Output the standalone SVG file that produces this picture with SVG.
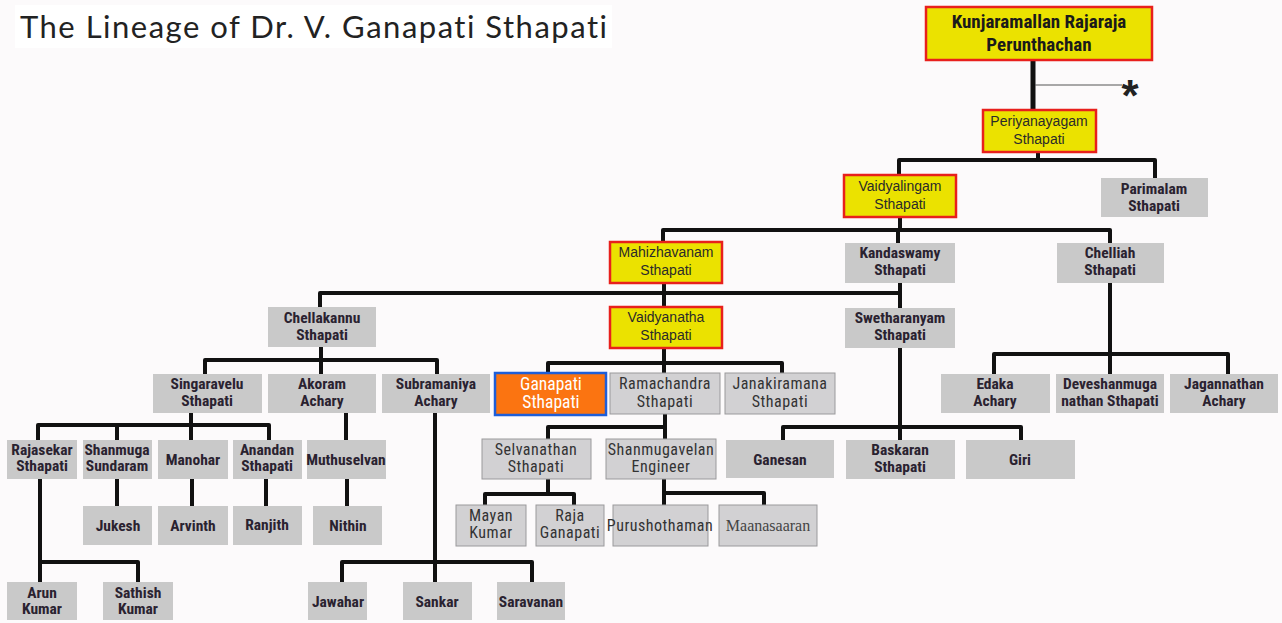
<svg xmlns="http://www.w3.org/2000/svg" width="1282" height="623" viewBox="0 0 1282 623">
<style>
.bg{fill:#fcfafb}
.y{fill:#ebe200;stroke:#e8201c;stroke-width:2.5}
.g{fill:#c9c9c9}
.l{fill:#d2d1d3;stroke:#9a999c;stroke-width:1}
.o{fill:#fb7411;stroke:#1e5ed8;stroke-width:2.5}
text{text-anchor:middle}
.tb{font-family:"Roboto Condensed","Liberation Sans",sans-serif;font-weight:bold;font-size:15.5px;fill:#2a2230}
.tk{font-family:"Roboto Condensed","Liberation Sans",sans-serif;font-weight:bold;font-size:19px;fill:#1a1a1a}
.ty{font-family:"Liberation Sans",Arial,sans-serif;font-size:14px;fill:#2a2a2a}
.tl{font-family:"Roboto Condensed","Liberation Sans",sans-serif;font-size:16px;fill:#333;letter-spacing:0.5px}
.to{font-family:"Roboto Condensed","Liberation Sans",sans-serif;font-size:17.5px;fill:#ffffff}
.ts{font-family:"Liberation Serif","Times New Roman",serif;font-size:16px;fill:#444}
#connectors path{fill:none;stroke:#111;stroke-width:4;stroke-linejoin:round}
</style>
<rect class="bg" x="0" y="0" width="1282" height="623"/>
<g id="title">
<rect x="15" y="5" width="597" height="43" fill="#ffffff"/>
<text x="20" y="38" style="text-anchor:start;font-family:Lato,'Open Sans',sans-serif;font-size:31px;letter-spacing:1.5px;fill:#222">The Lineage of Dr. V. Ganapati Sthapati</text>
</g>
<g id="connectors">
<path d="M1033 60V110" style="stroke-width:5"/>
<path d="M1035 85H1122" style="stroke:#555;stroke-width:1"/>
<path d="M1038 152V160M899 175V160H1155V178"/>
<path d="M900 217V230M663 243V230H1110V243M898 230V243"/>
<path d="M664 283V307M320 307V293H900M900 283V308"/>
<path d="M321 347V374M205 374V360H437V374"/>
<path d="M664 348V373M548 373V363H782V373"/>
<path d="M665 414V439M665 427H548V439"/>
<path d="M548 479V494M485 505V494H574V505"/>
<path d="M664 479V505M664 493H764V505"/>
<path d="M900 348V440M783 440V427H1021V440"/>
<path d="M1110 283V374M994 374V354H1228V374"/>
<path d="M191 413V440M38 440V425H269V440M117 425V440"/>
<path d="M117 479V506M192 479V506M266 479V506"/>
<path d="M40 479V582M40 562H138V582"/>
<path d="M346 413V440M347 479V506"/>
<path d="M435 413V582M342 582V562H532V582"/>
</g>
<g id="asterisk"><text x="1130" y="111" style="font-family:'Liberation Sans',sans-serif;font-weight:bold;font-size:44px;fill:#222">*</text></g>

<g id="kunjaramallan"><rect class="y" x="926" y="7" width="226" height="53"/><text class="tk" x="1039" y="28">Kunjaramallan Rajaraja</text><text class="tk" x="1039" y="51">Perunthachan</text></g>
<g id="periyanayagam"><rect class="y" x="983" y="110" width="113" height="42"/><text class="ty" x="1039" y="126">Periyanayagam</text><text class="ty" x="1039" y="144">Sthapati</text></g>
<g id="vaidyalingam"><rect class="y" x="844" y="175" width="112" height="42"/><text class="ty" x="900" y="191">Vaidyalingam</text><text class="ty" x="900" y="209">Sthapati</text></g>
<g id="parimalam"><rect class="g" x="1101" y="178" width="107" height="39"/><text class="tb" x="1154" y="194">Parimalam</text><text class="tb" x="1154" y="211">Sthapati</text></g>
<g id="mahizhavanam"><rect class="y" x="610" y="242" width="112" height="41"/><text class="ty" x="666" y="257">Mahizhavanam</text><text class="ty" x="666" y="275">Sthapati</text></g>
<g id="kandaswamy"><rect class="g" x="845" y="243" width="110" height="40"/><text class="tb" x="900" y="258">Kandaswamy</text><text class="tb" x="900" y="275">Sthapati</text></g>
<g id="chelliah"><rect class="g" x="1057" y="243" width="107" height="40"/><text class="tb" x="1110" y="258">Chelliah</text><text class="tb" x="1110" y="275">Sthapati</text></g>
<g id="chellakannu"><rect class="g" x="268" y="307" width="108" height="40"/><text class="tb" x="322" y="323">Chellakannu</text><text class="tb" x="322" y="340">Sthapati</text></g>
<g id="vaidyanatha"><rect class="y" x="610" y="307" width="112" height="41"/><text class="ty" x="666" y="322">Vaidyanatha</text><text class="ty" x="666" y="340">Sthapati</text></g>
<g id="swetharanyam"><rect class="g" x="845" y="308" width="110" height="40"/><text class="tb" x="900" y="323">Swetharanyam</text><text class="tb" x="900" y="340">Sthapati</text></g>
<g id="singaravelu"><rect class="g" x="153" y="374" width="109" height="39"/><text class="tb" x="207" y="389">Singaravelu</text><text class="tb" x="207" y="406">Sthapati</text></g>
<g id="akoram"><rect class="g" x="268" y="374" width="108" height="39"/><text class="tb" x="322" y="389">Akoram</text><text class="tb" x="322" y="406">Achary</text></g>
<g id="subramaniya"><rect class="g" x="382" y="374" width="108" height="39"/><text class="tb" x="436" y="389">Subramaniya</text><text class="tb" x="436" y="406">Achary</text></g>
<g id="ganapati"><rect class="o" x="495" y="373" width="111" height="42"/><text class="to" x="551" y="390">Ganapati</text><text class="to" x="551" y="408">Sthapati</text></g>
<g id="ramachandra"><rect class="l" x="610" y="373" width="110" height="41"/><text class="tl" x="665" y="389">Ramachandra</text><text class="tl" x="665" y="407">Sthapati</text></g>
<g id="janakiramana"><rect class="l" x="725" y="373" width="110" height="41"/><text class="tl" x="780" y="389">Janakiramana</text><text class="tl" x="780" y="407">Sthapati</text></g>
<g id="edaka"><rect class="g" x="941" y="374" width="109" height="39"/><text class="tb" x="995" y="389">Edaka</text><text class="tb" x="995" y="406">Achary</text></g>
<g id="deveshanmuganathan"><rect class="g" x="1056" y="374" width="108" height="39"/><text class="tb" x="1110" y="389">Deveshanmuga</text><text class="tb" x="1110" y="406">nathan Sthapati</text></g>
<g id="jagannathan"><rect class="g" x="1170" y="374" width="108" height="39"/><text class="tb" x="1224" y="389">Jagannathan</text><text class="tb" x="1224" y="406">Achary</text></g>
<g id="rajasekar"><rect class="g" x="7" y="440" width="70" height="39"/><text class="tb" x="42" y="455">Rajasekar</text><text class="tb" x="42" y="471">Sthapati</text></g>
<g id="shanmuga"><rect class="g" x="83" y="440" width="69" height="39"/><text class="tb" x="117" y="455">Shanmuga</text><text class="tb" x="117" y="471">Sundaram</text></g>
<g id="manohar"><rect class="g" x="158" y="440" width="70" height="39"/><text class="tb" x="193" y="465">Manohar</text></g>
<g id="anandan"><rect class="g" x="233" y="440" width="69" height="39"/><text class="tb" x="267" y="455">Anandan</text><text class="tb" x="267" y="471">Sthapati</text></g>
<g id="muthuselvan"><rect class="g" x="307" y="440" width="79" height="39"/><text class="tb" x="346" y="465">Muthuselvan</text></g>
<g id="selvanathan"><rect class="l" x="482" y="439" width="109" height="40"/><text class="tl" x="536" y="455">Selvanathan</text><text class="tl" x="536" y="472">Sthapati</text></g>
<g id="shanmugavelan"><rect class="l" x="606" y="439" width="110" height="40"/><text class="tl" x="661" y="455">Shanmugavelan</text><text class="tl" x="661" y="472">Engineer</text></g>
<g id="ganesan"><rect class="g" x="726" y="440" width="108" height="38"/><text class="tb" x="780" y="465">Ganesan</text></g>
<g id="baskaran"><rect class="g" x="846" y="440" width="109" height="39"/><text class="tb" x="900" y="455">Baskaran</text><text class="tb" x="900" y="472">Sthapati</text></g>
<g id="giri"><rect class="g" x="966" y="440" width="109" height="39"/><text class="tb" x="1020" y="465">Giri</text></g>
<g id="jukesh"><rect class="g" x="83" y="506" width="69" height="39"/><text class="tb" x="118" y="531">Jukesh</text></g>
<g id="arvinth"><rect class="g" x="158" y="506" width="70" height="39"/><text class="tb" x="193" y="531">Arvinth</text></g>
<g id="ranjith"><rect class="g" x="233" y="506" width="69" height="39"/><text class="tb" x="267" y="530">Ranjith</text></g>
<g id="nithin"><rect class="g" x="313" y="506" width="69" height="39"/><text class="tb" x="348" y="531">Nithin</text></g>
<g id="mayan"><rect class="l" x="456" y="505" width="70" height="41"/><text class="tl" x="491" y="521">Mayan</text><text class="tl" x="491" y="538">Kumar</text></g>
<g id="raja"><rect class="l" x="536" y="505" width="68" height="41"/><text class="tl" x="570" y="521">Raja</text><text class="tl" x="570" y="538">Ganapati</text></g>
<g id="purushothaman"><rect class="l" x="613" y="505" width="95" height="41"/><text class="tl" x="660" y="531">Purushothaman</text></g>
<g id="maanasaaran"><rect class="l" x="719" y="505" width="98" height="41"/><text class="ts" x="768" y="531">Maanasaaran</text></g>
<g id="arun"><rect class="g" x="7" y="582" width="70" height="38"/><text class="tb" x="42" y="598">Arun</text><text class="tb" x="42" y="614">Kumar</text></g>
<g id="sathish"><rect class="g" x="103" y="582" width="70" height="38"/><text class="tb" x="138" y="598">Sathish</text><text class="tb" x="138" y="614">Kumar</text></g>
<g id="jawahar"><rect class="g" x="308" y="582" width="59" height="38"/><text class="tb" x="338" y="607">Jawahar</text></g>
<g id="sankar"><rect class="g" x="403" y="582" width="69" height="38"/><text class="tb" x="437" y="607">Sankar</text></g>
<g id="saravanan"><rect class="g" x="497" y="582" width="68" height="38"/><text class="tb" x="531" y="607">Saravanan</text></g>
</svg>
